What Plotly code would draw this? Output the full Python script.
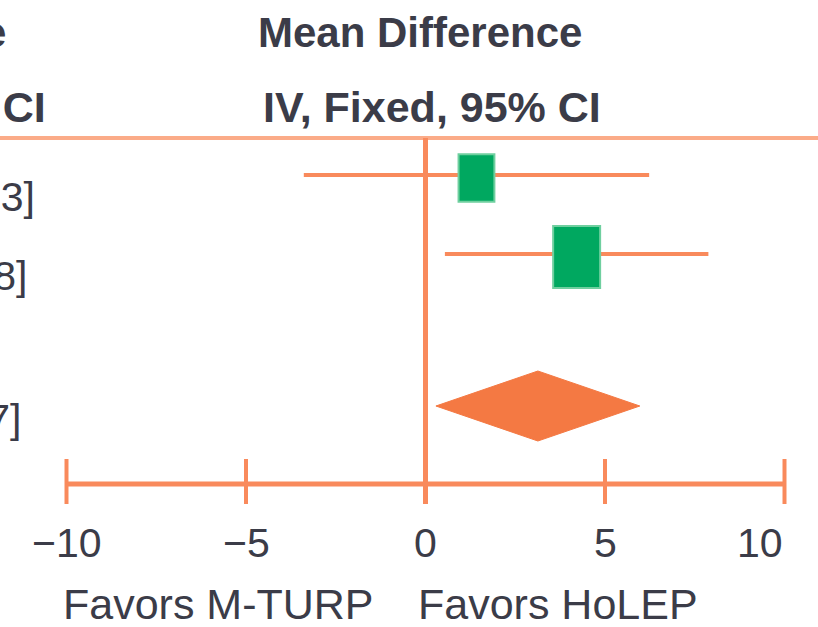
import plotly.graph_objects as go

# Forest plot: mean difference, inverse-variance fixed effect
studies = ["Study 1", "Study 2"]
md = [1.42, 4.21]
ci_low = [-3.39, 0.54]
ci_high = [6.23, 7.88]
weights = [36.8, 63.2]

pooled_md = 3.13
pooled_low = 0.29
pooled_high = 5.97

tick_vals = [-10, -5, 0, 5, 10]
tick_text = ["\u221210", "\u22125", "0", "5", "10"]
favors_left = "Favors M-TURP"
favors_right = "Favors HoLEP"

W, H = 818, 627
ORANGE = "#f98a5c"
ORANGE_LIGHT = "#fbab88"
DIAMOND = "#f47943"
GREEN = "#00a860"
GREEN_EDGE = "#6fcf9f"
TEXT = "#3b3c48"
FONT = "Liberation Sans, Arial, sans-serif"

# horizontal scale: pixels per unit and position of zero
PX_PER_UNIT = 35.9
ZERO_PX = 425.5
x_range = [-ZERO_PX / PX_PER_UNIT, (W - ZERO_PX) / PX_PER_UNIT]

# vertical layout in pixel units (top = 0)
row_y = [175, 254]
pooled_y = 406
header_line_y = 138
axis_y = 484
tick_top, tick_bottom = 459, 504

fig = go.Figure()

# confidence interval lines
for m, lo, hi, y in zip(md, ci_low, ci_high, row_y):
    fig.add_trace(go.Scatter(x=[lo, hi], y=[y, y], mode="lines",
                             line=dict(color=ORANGE, width=4),
                             hoverinfo="skip", showlegend=False))

# weight squares (side proportional to sqrt(weight))
for m, w, y in zip(md, weights, row_y):
    half_w = 5.91 * w ** 0.5 / 2 / PX_PER_UNIT
    half_h = 7.8 * w ** 0.5 / 2
    fig.add_shape(type="rect", xref="x", yref="y",
                  x0=m - half_w, x1=m + half_w, y0=y - half_h + 3, y1=y + half_h + 3,
                  fillcolor=GREEN, line=dict(color=GREEN_EDGE, width=2), layer="above")

# pooled diamond
fig.add_trace(go.Scatter(
    x=[pooled_low, pooled_md, pooled_high, pooled_md, pooled_low],
    y=[pooled_y, pooled_y - 35, pooled_y, pooled_y + 35, pooled_y],
    mode="lines", fill="toself", fillcolor=DIAMOND,
    line=dict(color=DIAMOND, width=1), hoverinfo="skip", showlegend=False))

# header rule
fig.add_shape(type="line", xref="paper", yref="y", x0=0, x1=1,
              y0=header_line_y, y1=header_line_y,
              line=dict(color=ORANGE_LIGHT, width=4), layer="below")

# line of no effect
fig.add_shape(type="line", xref="x", yref="y", x0=0, x1=0,
              y0=header_line_y, y1=tick_bottom,
              line=dict(color=ORANGE, width=5), layer="below")

# axis line and ticks
fig.add_shape(type="line", xref="x", yref="y", x0=tick_vals[0], x1=tick_vals[-1],
              y0=axis_y, y1=axis_y, line=dict(color=ORANGE, width=5), layer="below")
for t in tick_vals:
    fig.add_shape(type="line", xref="x", yref="y", x0=t, x1=t,
                  y0=tick_top, y1=tick_bottom,
                  line=dict(color=ORANGE, width=4), layer="below")

annotations = []
for i, (t, lab) in enumerate(zip(tick_vals, tick_text)):
    last = i == len(tick_vals) - 1
    annotations.append(dict(x=t, y=543, xref="x", yref="y", text=lab,
                            xanchor="right" if last else "center", yanchor="middle",
                            showarrow=False, font=dict(size=41, color=TEXT, family=FONT)))

annotations.append(dict(x=376 / W, y=604, xref="paper", yref="y", text=favors_left,
                        xanchor="right", yanchor="middle", showarrow=False,
                        font=dict(size=43, color=TEXT, family=FONT)))
annotations.append(dict(x=416 / W, y=604, xref="paper", yref="y", text=favors_right,
                        xanchor="left", yanchor="middle", showarrow=False,
                        font=dict(size=43, color=TEXT, family=FONT)))

# column headers
annotations.append(dict(x=420 / W, y=32, xref="paper", yref="y", text="<b>Mean Difference</b>",
                        xanchor="center", yanchor="middle", showarrow=False,
                        font=dict(size=42, color=TEXT, family=FONT)))
annotations.append(dict(x=432 / W, y=107, xref="paper", yref="y", text="<b>IV, Fixed, 95% CI</b>",
                        xanchor="center", yanchor="middle", showarrow=False,
                        font=dict(size=43, color=TEXT, family=FONT)))
annotations.append(dict(x=8 / W, y=32, xref="paper", yref="y", text="<b>Mean Difference</b>",
                        xanchor="right", yanchor="middle", showarrow=False,
                        font=dict(size=42, color=TEXT, family=FONT)))
annotations.append(dict(x=48 / W, y=107, xref="paper", yref="y", text="<b>IV, Fixed, 95% CI</b>",
                        xanchor="right", yanchor="middle", showarrow=False,
                        font=dict(size=43, color=TEXT, family=FONT)))

# effect estimate column
value_rows = [(m, lo, hi) for m, lo, hi in zip(md, ci_low, ci_high)] + \
             [(pooled_md, pooled_low, pooled_high)]
value_y = [197, 276, 419]
value_right = [37, 29, 23]
for (m, lo, hi), y, xr in zip(value_rows, value_y, value_right):
    annotations.append(dict(x=xr / W, y=y, xref="paper", yref="y",
                            text=f"{m:.2f} [{lo:.2f}, {hi:.2f}]",
                            xanchor="right", yanchor="middle", showarrow=False,
                            font=dict(size=41, color=TEXT, family=FONT)))

fig.update_layout(
    width=W, height=H,
    margin=dict(l=0, r=0, t=0, b=0),
    paper_bgcolor="white", plot_bgcolor="white",
    xaxis=dict(range=x_range, visible=False, fixedrange=True),
    yaxis=dict(range=[H, 0], visible=False, fixedrange=True),
    annotations=annotations,
    showlegend=False,
)

fig.write_html("out.html")
